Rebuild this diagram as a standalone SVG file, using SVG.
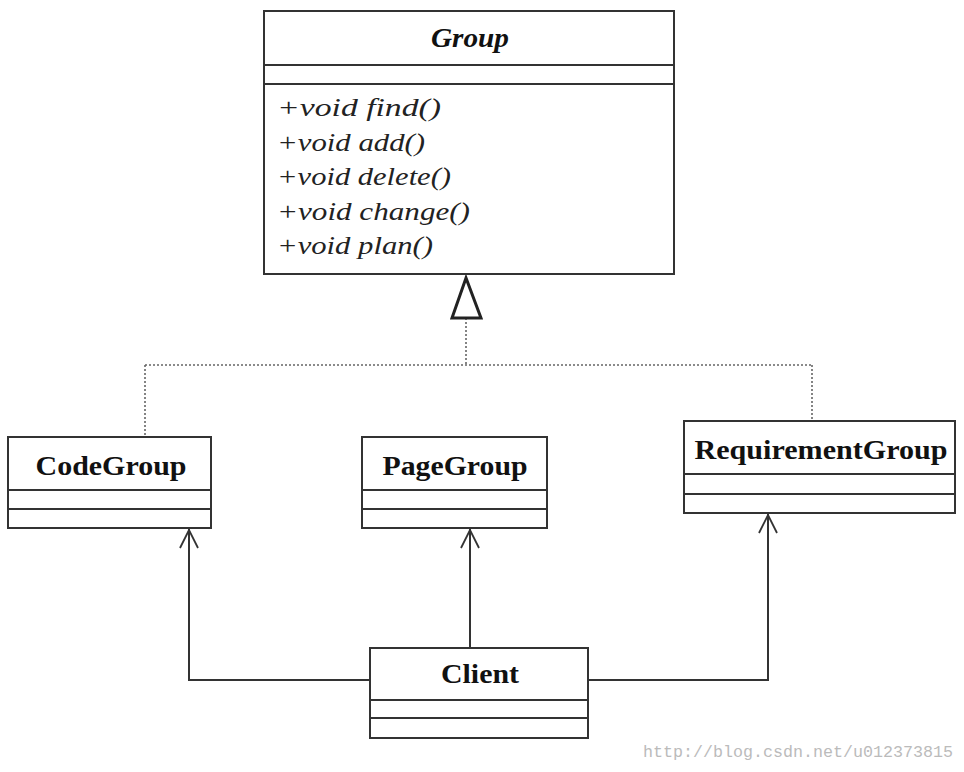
<svg xmlns="http://www.w3.org/2000/svg" width="964" height="772" viewBox="0 0 964 772">
<defs>
<style>
.box{fill:#fff;stroke:#333;stroke-width:2}
.div{stroke:#333;stroke-width:2}
.t{font-family:"Liberation Serif","Times New Roman",serif;font-weight:bold;font-size:27px;fill:#111;text-anchor:middle}
.m{font-family:"Liberation Serif","Times New Roman",serif;font-style:italic;font-size:26px;fill:#222}
.dot{fill:none;stroke:#666;stroke-width:1.6;stroke-dasharray:2 2}
.assoc{fill:none;stroke:#333;stroke-width:2}
.head{fill:none;stroke:#333;stroke-width:1.8}
</style>
</defs>
<rect width="964" height="772" fill="#fff"/>
<g id="connectors">
<path class="dot" d="M466 318 V365 M145 365 H812 M145 365 V437 M812 365 V421"/>
<polygon points="466,278 452,318 481,318" fill="#fff" stroke="#222" stroke-width="3"/>
<path class="assoc" d="M370 680 H189 V529"/>
<path class="assoc" d="M470 648 V529"/>
<path class="assoc" d="M588 680 H768 V514"/>
<path class="head" d="M180 548 L189 530 L198 548"/>
<path class="head" d="M461 548 L470 530 L479 548"/>
<path class="head" d="M759 533 L768 515 L777 533"/>
</g>
<g id="Group">
<rect class="box" x="264" y="11" width="410" height="263"/>
<line class="div" x1="264" y1="65" x2="674" y2="65"/>
<line class="div" x1="264" y1="84" x2="674" y2="84"/>
<text class="t" x="470" y="47" font-style="italic" textLength="78" lengthAdjust="spacingAndGlyphs">Group</text>
<text class="m" x="277" y="116" textLength="164" lengthAdjust="spacingAndGlyphs">+void find()</text>
<text class="m" x="277" y="151" textLength="148" lengthAdjust="spacingAndGlyphs">+void add()</text>
<text class="m" x="277" y="185" textLength="174" lengthAdjust="spacingAndGlyphs">+void delete()</text>
<text class="m" x="277" y="220" textLength="193" lengthAdjust="spacingAndGlyphs">+void change()</text>
<text class="m" x="277" y="254" textLength="156" lengthAdjust="spacingAndGlyphs">+void plan()</text>
</g>
<g id="CodeGroup">
<rect class="box" x="8" y="437" width="203" height="91"/>
<line class="div" x1="8" y1="490" x2="211" y2="490"/>
<line class="div" x1="8" y1="509" x2="211" y2="509"/>
<text class="t" x="111" y="475" textLength="151" lengthAdjust="spacingAndGlyphs">CodeGroup</text>
</g>
<g id="PageGroup">
<rect class="box" x="362" y="437" width="185" height="91"/>
<line class="div" x1="362" y1="490" x2="547" y2="490"/>
<line class="div" x1="362" y1="509" x2="547" y2="509"/>
<text class="t" x="455" y="475" textLength="145" lengthAdjust="spacingAndGlyphs">PageGroup</text>
</g>
<g id="RequirementGroup">
<rect class="box" x="684" y="421" width="271" height="92"/>
<line class="div" x1="684" y1="474" x2="955" y2="474"/>
<line class="div" x1="684" y1="494" x2="955" y2="494"/>
<text class="t" x="821" y="459" textLength="253" lengthAdjust="spacingAndGlyphs">RequirementGroup</text>
</g>
<g id="Client">
<rect class="box" x="370" y="648" width="218" height="90"/>
<line class="div" x1="370" y1="700" x2="588" y2="700"/>
<line class="div" x1="370" y1="718" x2="588" y2="718"/>
<text class="t" x="480" y="683" textLength="78" lengthAdjust="spacingAndGlyphs">Client</text>
</g>
<text x="643" y="757" font-family="'Liberation Mono','DejaVu Sans Mono',monospace" font-size="16" fill="#bbb" textLength="310" lengthAdjust="spacingAndGlyphs">http://blog.csdn.net/u012373815</text>
</svg>
